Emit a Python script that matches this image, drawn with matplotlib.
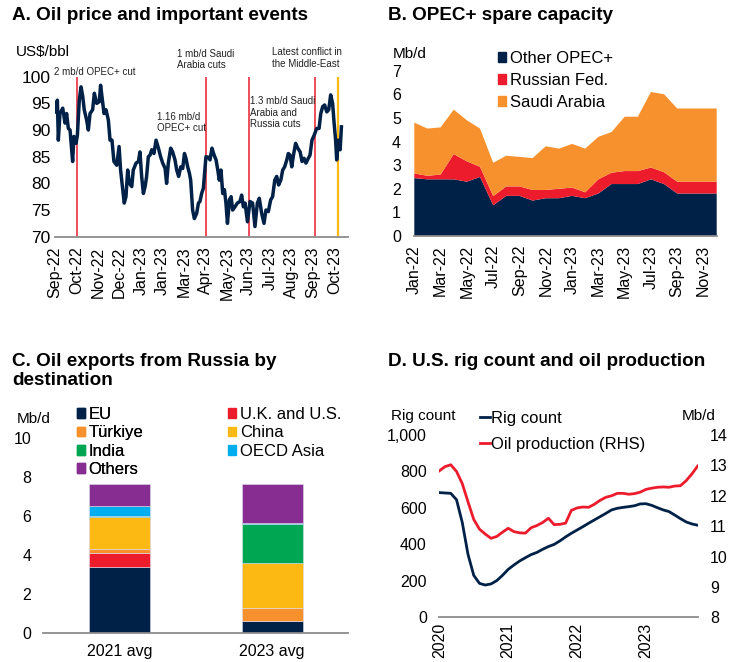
import matplotlib
matplotlib.use("Agg")
import matplotlib.pyplot as plt
from matplotlib.patches import Patch
from matplotlib.lines import Line2D
import numpy as np

plt.rcParams['font.family'] = ['Liberation Sans', 'DejaVu Sans']

W, H = 740, 662
NAVY = '#002147'
RED = '#EC1C2D'
ORANGE = '#F7912D'
YELLOW = '#FDB913'
GREEN = '#00A651'
CYAN = '#00AEEF'
PURPLE = '#872D91'
GREY = '#8c8c8c'

# ---- A. oil price (x in months since Sep-22, as on the axis) ----
price_t = [0.00, 0.11, 0.155, 0.23, 0.36, 0.465, 0.54, 0.62, 0.70, 0.775,
           0.82, 0.88, 0.98, 1.04, 1.13, 1.21, 1.29, 1.36, 1.47, 1.55,
           1.63, 1.75, 1.83, 1.94, 2.06, 2.12, 2.22, 2.28, 2.37, 2.48,
           2.56, 2.65, 2.74, 2.87, 2.98, 3.05, 3.15, 3.22, 3.30, 3.38,
           3.46, 3.57, 3.64, 3.77, 3.88, 3.95, 4.03, 4.11, 4.19, 4.26,
           4.34, 4.42, 4.50, 4.60, 4.70, 4.81, 4.91, 5.01, 5.12, 5.19,
           5.27, 5.38, 5.47, 5.58, 5.66, 5.75, 5.85, 5.94, 6.02, 6.09,
           6.17, 6.25, 6.31, 6.40, 6.48, 6.59, 6.67, 6.74, 6.82, 6.90,
           6.98, 7.02, 7.13, 7.21, 7.30, 7.40, 7.49, 7.57, 7.64, 7.72,
           7.80, 7.88, 7.95, 8.02, 8.11, 8.19, 8.26, 8.37, 8.48, 8.60,
           8.68, 8.76, 8.84, 8.95, 9.07, 9.19, 9.30, 9.41, 9.50, 9.61,
           9.72, 9.81, 9.92, 10.03, 10.12, 10.22, 10.31, 10.40, 10.50, 10.59,
           10.68, 10.78, 10.85, 10.93, 11.01, 11.09, 11.19, 11.29, 11.40, 11.49,
           11.58, 11.67, 11.78, 11.86, 11.95, 12.06, 12.17, 12.28, 12.36, 12.45,
           12.54, 12.64, 12.73, 12.82, 12.91, 12.98, 13.05, 13.10, 13.18, 13.26,
           13.32]
price = [93.4, 95.6, 88.1, 93.1, 94.1, 91.3, 93.1, 90.3, 90.0, 86.3,
         84.1, 88.8, 87.5, 89.0, 95.6, 98.1, 96.3, 93.8, 91.9, 90.0,
         93.1, 93.8, 96.9, 95.0, 95.3, 98.4, 95.0, 93.1, 93.8, 91.9,
         88.1, 88.1, 84.1, 83.4, 86.9, 82.5, 78.8, 76.3, 77.5, 82.5,
         80.0, 79.4, 82.5, 83.8, 84.1, 85.9, 81.3, 78.1, 79.4, 81.3,
         85.0, 85.3, 86.3, 85.6, 88.1, 86.6, 85.0, 83.8, 82.8, 80.0,
         83.8, 86.6, 85.9, 84.4, 82.5, 81.3, 83.1, 82.8, 85.6, 84.7,
         83.1, 81.9, 80.6, 75.0, 73.4, 74.4, 76.3, 76.6, 78.1, 79.1,
         83.1, 85.0, 84.9, 84.4, 86.6, 85.3, 84.4, 82.5, 80.6, 82.5,
         78.1, 78.8, 76.3, 72.5, 76.9, 77.5, 75.0, 75.6, 76.3, 76.6,
         77.8, 75.6, 76.3, 72.8, 76.6, 76.3, 71.9, 76.3, 77.2, 74.4,
         72.5, 75.0, 74.7, 76.9, 77.5, 80.6, 81.3, 79.7, 80.6, 82.5,
         83.1, 84.4, 85.6, 85.3, 83.1, 85.3, 87.5, 86.6, 85.9, 84.1,
         84.7, 83.8, 84.7, 85.3, 88.1, 89.1, 90.3, 90.3, 93.1, 94.4,
         94.7, 93.4, 93.8, 96.6, 95.0, 91.3, 88.1, 84.4, 88.1, 86.3,
         90.6]
price_ticks = ['Sep-22', 'Oct-22', 'Nov-22', 'Dec-22', 'Jan-23', 'Jan-23', 'Mar-23',
               'Apr-23', 'May-23', 'Jun-23', 'Jul-23', 'Aug-23', 'Sep-23', 'Oct-23']
cut_events = [1.04, 7.02, 9.0, 12.09]
conflict_event = 13.15
event_labels = ['2 mb/d OPEC+ cut', '1.16 mb/d\nOPEC+ cut', '1 mb/d Saudi\nArabia cuts',
                '1.3 mb/d Saudi\nArabia and\nRussia cuts', 'Latest conflict in\nthe Middle-East']

# ---- B. OPEC+ spare capacity, Jan-22 .. Dec-23 ----
spare_months = ['Jan-22', 'Feb-22', 'Mar-22', 'Apr-22', 'May-22', 'Jun-22', 'Jul-22', 'Aug-22',
                'Sep-22', 'Oct-22', 'Nov-22', 'Dec-22', 'Jan-23', 'Feb-23', 'Mar-23', 'Apr-23',
                'May-23', 'Jun-23', 'Jul-23', 'Aug-23', 'Sep-23', 'Oct-23', 'Nov-23', 'Dec-23']
other_opec = [2.45, 2.4, 2.4, 2.4, 2.3, 2.5, 1.3, 1.7, 1.7, 1.5, 1.6, 1.6,
              1.7, 1.6, 1.8, 2.2, 2.2, 2.2, 2.4, 2.2, 1.8, 1.8, 1.8, 1.8]
russia_spare = [0.2, 0.15, 0.2, 1.07, 0.86, 0.43, 0.39, 0.4, 0.4, 0.45, 0.35, 0.4,
                0.35, 0.25, 0.6, 0.48, 0.55, 0.55, 0.5, 0.5, 0.5, 0.5, 0.5, 0.5]
saudi_spare = [2.15, 2.0, 2.0, 1.88, 1.74, 1.62, 1.41, 1.3, 1.25, 1.35, 1.85, 1.7,
               1.85, 1.85, 1.8, 1.72, 2.3, 2.3, 3.2, 3.3, 3.1, 3.1, 3.1, 3.1]

# ---- C. Russian oil exports by destination ----
export_years = ['2021 avg', '2023 avg']
dest_names = ['EU', 'U.K. and U.S.', 'Türkiye', 'China', 'India', 'OECD Asia', 'Others']
dest_colors = [NAVY, RED, ORANGE, YELLOW, GREEN, CYAN, PURPLE]
eu = [3.40, 0.62]
uk_us = [0.72, 0.0]
turkiye = [0.19, 0.63]
china = [1.62, 2.32]
india = [0.07, 2.00]
oecd_asia = [0.52, 0.06]
others = [1.11, 2.00]

# ---- D. U.S. rig count and oil production, monthly from Jan 2020 ----
rig_count = [684, 682, 680, 645, 520, 345, 230, 186, 177, 183,
             201, 230, 263, 287, 309, 327, 344, 356, 373, 388,
             400, 419, 441, 461, 479, 497, 516, 534, 552, 570,
             589, 598, 603, 607, 612, 622, 623, 614, 601, 589,
             580, 561, 541, 523, 512, 505]
oil_prod = [12.82, 12.96, 13.02, 12.80, 12.40, 11.80, 11.22, 10.90, 10.74, 10.60,
            10.66, 10.80, 10.93, 10.82, 10.78, 10.77, 10.95, 11.02, 11.12, 11.26,
            11.05, 11.06, 11.10, 11.52, 11.60, 11.63, 11.62, 11.72, 11.85, 11.95,
            12.00, 12.08, 12.08, 12.05, 12.07, 12.12, 12.21, 12.25, 12.28, 12.29,
            12.28, 12.32, 12.33, 12.50, 12.72, 12.98]
rig_years = ['2020', '2021', '2022', '2023']

TITLE = 13.6
TICK = 11.5
UNIT = 11


def px_axes(fig, left, top, right, bottom):
    return fig.add_axes([left / W, 1 - bottom / H, (right - left) / W, (bottom - top) / H])


def px_text(fig, x, y, s, **kw):
    return fig.text(x / W, 1 - y / H, s, **kw)


def clean(ax):
    for side in ['top', 'right', 'left']:
        ax.spines[side].set_visible(False)
    ax.spines['bottom'].set_color(GREY)
    ax.spines['bottom'].set_linewidth(1.3)
    ax.tick_params(length=0, colors='black')


fig = plt.figure(figsize=(W / 100, H / 100), dpi=100)

# ===== A =====
ax = px_axes(fig, 55, 76.7, 348.3, 236.7)
clean(ax)
ax.plot(price_t, price, color=NAVY, lw=2.5, solid_joinstyle='round', zorder=3)
for ev in cut_events:
    ax.axvline(ev, color=RED, lw=1.1, zorder=2)
ax.axvline(conflict_event, color=YELLOW, lw=1.6, zorder=2)
ax.set_xlim(0, 13.64)
ax.set_ylim(70, 100)
ax.set_yticks(range(70, 101, 5))
ax.set_xticks(range(len(price_ticks)), price_ticks, rotation=90)
ax.tick_params(axis='y', labelsize=12.5, pad=3.5)
ax.tick_params(axis='x', labelsize=11.5, pad=7)
lab_kw = dict(fontsize=7, color='#222222', va='top', ha='left', clip_on=False, linespacing=1.15)
ax.text(-0.05, 101.9, event_labels[0], **lab_kw)
ax.text(4.74, 93.4, event_labels[1], **lab_kw)
ax.text(5.67, 105.2, event_labels[2], **lab_kw)
ax.text(9.07, 96.3, event_labels[3], **lab_kw)
ax.text(10.1, 105.5, event_labels[4], **lab_kw)
px_text(fig, 12, 7, 'A. Oil price and important events', fontsize=TITLE, fontweight='bold', va='top')
px_text(fig, 16, 45, 'US$/bbl', fontsize=UNIT, va='top')

# ===== B =====
ax = px_axes(fig, 414.3, 70.7, 716.7, 236)
clean(ax)
xs = np.arange(len(spare_months))
ax.stackplot(xs, other_opec, russia_spare, saudi_spare,
             colors=[NAVY, RED, ORANGE], lw=0)
ax.set_xlim(0, len(spare_months) - 1)
ax.set_ylim(0, 7)
ax.set_yticks(range(0, 8))
ax.set_xticks(xs[::2], spare_months[::2], rotation=90)
ax.tick_params(axis='y', labelsize=TICK, pad=9.5)
ax.tick_params(axis='x', labelsize=11.5, pad=6.5)
handles = [Patch(color=c) for c in [NAVY, RED, ORANGE]]
fig.legend(handles, ['Other OPEC+', 'Russian Fed.', 'Saudi Arabia'],
           loc='upper left', bbox_to_anchor=(498 / W, 1 - 51 / H), bbox_transform=fig.transFigure,
           frameon=False, fontsize=12, borderpad=0, borderaxespad=0,
           handlelength=0.5, handleheight=0.5, handletextpad=0.2, labelspacing=0.42)
px_text(fig, 388, 7, 'B. OPEC+ spare capacity', fontsize=TITLE, fontweight='bold', va='top')
px_text(fig, 393, 47, 'Mb/d', fontsize=UNIT, va='top')

# ===== C =====
ax = px_axes(fig, 43.3, 438.3, 348.3, 632.7)
clean(ax)
xc = np.arange(len(export_years))
bottom = np.zeros(len(export_years))
for vals, col in zip([eu, uk_us, turkiye, china, india, oecd_asia, others], dest_colors):
    ax.bar(xc, vals, 0.4, bottom=bottom, color=col, edgecolor='#dcdcec', lw=0.4)
    bottom += np.array(vals)
ax.set_xlim(-0.5, 1.5)
ax.set_ylim(0, 10)
ax.set_yticks(range(0, 11, 2))
ax.set_xticks(xc, export_years)
ax.tick_params(axis='y', labelsize=TICK, pad=8.5)
ax.tick_params(axis='x', labelsize=TICK, pad=8)
leg_kw = dict(loc='upper left', bbox_transform=fig.transFigure, frameon=False, fontsize=12,
              borderpad=0, borderaxespad=0, handlelength=0.5, handleheight=0.5,
              handletextpad=0.2, labelspacing=0.2)
col1 = [0, 2, 4, 6]
col2 = [1, 3, 5]
leg1 = fig.legend([Patch(color=dest_colors[i]) for i in col1], [dest_names[i] for i in col1],
                  bbox_to_anchor=(77 / W, 1 - 407 / H), **leg_kw)
fig.legend([Patch(color=dest_colors[i]) for i in col2], [dest_names[i] for i in col2],
           bbox_to_anchor=(228 / W, 1 - 407 / H), **leg_kw)
fig.add_artist(leg1)
px_text(fig, 12, 353, 'C. Oil exports from Russia by\ndestination', fontsize=TITLE,
        fontweight='bold', va='top', linespacing=1.15)
px_text(fig, 17, 412, 'Mb/d', fontsize=UNIT, va='top')

# ===== D =====
ax = px_axes(fig, 439.3, 435, 697.7, 617.3)
clean(ax)
xm = np.arange(len(rig_count))
ax.plot(xm, rig_count, color=NAVY, lw=2)
ax.set_xlim(0, len(rig_count) - 1)
ax.set_ylim(0, 1000)
ax.set_yticks(range(0, 1001, 200))
ax.set_yticklabels([f'{v:,}' for v in range(0, 1001, 200)])
ax.set_xticks([0, 12, 24, 36], rig_years, rotation=90)
ax.tick_params(axis='y', labelsize=TICK, pad=9)
ax.tick_params(axis='x', labelsize=TICK, pad=4)
ax2 = ax.twinx()
for side in ax2.spines:
    ax2.spines[side].set_visible(False)
ax2.plot(xm, oil_prod, color=RED, lw=2)
ax2.set_ylim(8, 14)
ax2.set_yticks(range(8, 15))
ax2.tick_params(length=0, labelsize=TICK, pad=9)
fig.legend([Line2D([], [], color=NAVY, lw=2), Line2D([], [], color=RED, lw=2)],
           ['Rig count', 'Oil production (RHS)'],
           loc='upper left', bbox_to_anchor=(480 / W, 1 - 411 / H), bbox_transform=fig.transFigure,
           frameon=False, fontsize=12, borderpad=0, borderaxespad=0,
           handlelength=0.6, handletextpad=0.05, labelspacing=0.65)
px_text(fig, 388, 353, 'D. U.S. rig count and oil production', fontsize=TITLE, fontweight='bold', va='top')
px_text(fig, 391, 409, 'Rig count', fontsize=UNIT, va='top')
px_text(fig, 682, 409, 'Mb/d', fontsize=UNIT, va='top')

fig.savefig('out.png', dpi=100)
